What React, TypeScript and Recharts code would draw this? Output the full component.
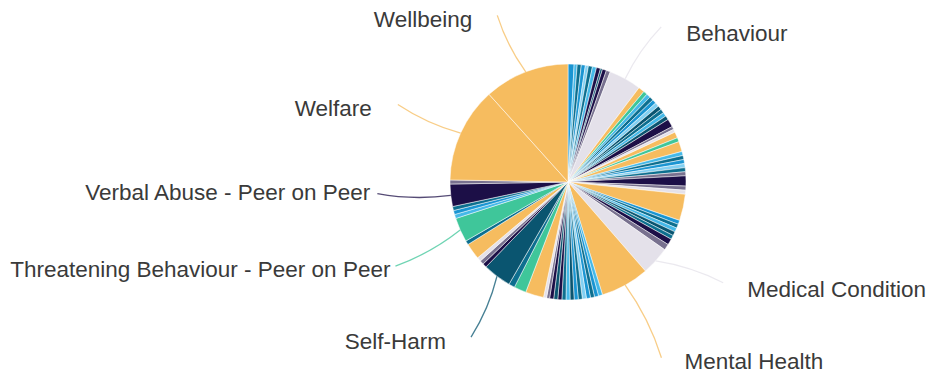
import { PieChart, Pie, Cell } from "recharts";

// incident categories, clockwise from 12 o'clock (alphabetical, as the source report)
const categories = [
  "Absconding", "Abuse - Emotional", "Abuse - Financial", "Abuse - Neglect", "Abuse - Physical",
  "Abuse - Sexual", "Alcohol", "Anti-Social Behaviour", "Anxiety", "Attendance",
  "Attachment", "Behaviour", "Bereavement", "Bullying", "Bullying - Online",
  "Bullying - Physical", "Bullying - Verbal", "Child in Need", "Child Protection", "Concern from Parent",
  "Contextual Safeguarding", "Criminal Exploitation", "Cyber Safety", "Disclosure", "Domestic Abuse",
  "Drugs", "Eating Disorder", "E-Safety", "Exclusion", "FGM",
  "Family Breakdown", "Financial Hardship", "Fire Setting", "Forced Marriage", "Gang Activity",
  "Harmful Sexual Behaviour", "Health", "Homelessness", "Housing", "Illness",
  "Injury", "Isolation", "Looked After Child", "Lateness", "Low Mood",
  "Medical Condition", "Mental Health", "Missing from Home", "Neglect", "Online Safety",
  "Parental Conflict", "Peer Conflict", "Physical Abuse", "Physical Harm", "Police Involvement",
  "Prejudice", "Prevent", "Private Fostering", "Racism", "Radicalisation",
  "Relationships", "Safeguarding", "School Refusal", "Self-Care", "Self-Esteem",
  "Self-Harm", "Sexual Exploitation", "Sexual Harassment", "Sleep Issues", "Smoking",
  "Social Media", "Threatening Behaviour - Peer on Peer", "Theft", "Trauma", "Truancy",
  "Verbal Abuse - Peer on Peer", "Vulnerability", "Welfare", "Wellbeing",
];

const counts = [
  6, 3, 4, 4, 3, 4, 4, 4, 2, 4,
  4, 32, 6, 4, 4, 4, 4, 4, 4, 4,
  4, 4, 8, 3, 3, 6, 4, 10, 4, 4,
  4, 4, 4, 4, 10, 4, 4, 26, 4, 4,
  4, 4, 4, 6, 6, 28, 48, 4, 4, 4,
  4, 4, 4, 4, 4, 4, 4, 4, 4, 4,
  3, 3, 18, 12, 6, 28, 4, 4, 4, 16,
  4, 24, 4, 4, 4, 22, 4, 94, 84,
];

const labelledCategories = [
  "Wellbeing", "Behaviour", "Welfare", "Verbal Abuse - Peer on Peer",
  "Threatening Behaviour - Peer on Peer", "Self-Harm", "Medical Condition", "Mental Health",
];

const data = categories.map((name, i) => ({ name, value: counts[i] }));

const palette: Record<string, string> = {
  o: "#F6BC5F",
  g: "#E4E1EA",
  n: "#1C0F47",
  b: "#1A95D2",
  c: "#45B9E8",
  t: "#0D6F8F",
  d: "#0A5570",
  m: "#3FC69A",
  v: "#78718F",
  l: "#82D0F2",
};

const sliceColours = [
  "b", "c", "t", "b", "l", "t", "c", "n", "d", "n",
  "v", "g", "o", "m", "c", "t", "b", "l", "d", "t",
  "c", "d", "n", "v", "g", "o", "m", "o", "c", "t",
  "b", "l", "t", "v", "n", "v", "g", "o", "b", "t",
  "c", "d", "t", "n", "v", "g", "o", "c", "b", "t",
  "b", "l", "t", "b", "d", "c", "t", "n", "d", "n",
  "v", "g", "o", "m", "t", "d", "n", "v", "g", "o",
  "t", "m", "c", "b", "t", "n", "v", "o", "o",
].map((k) => palette[k]);

// leader line: end radius, angle shift (deg, clockwise), gap before text, text y shift
const labelLayout: Record<string, { r: number; da: number; gap: number; dy: number }> = {
  Wellbeing: { r: 181, da: -2, gap: 25, dy: 4 },
  Behaviour: { r: 181, da: 2, gap: 25, dy: 7 },
  Welfare: { r: 187, da: 0, gap: 26, dy: 4 },
  "Verbal Abuse - Peer on Peer": { r: 191, da: 3, gap: 7, dy: -1 },
  "Threatening Behaviour - Peer on Peer": { r: 192, da: -2, gap: 5, dy: 3 },
  "Self-Harm": { r: 183, da: -5, gap: 25, dy: 4 },
  "Medical Condition": { r: 185, da: -9, gap: 24, dy: 7 },
  "Mental Health": { r: 199, da: 1, gap: 23, dy: 4 },
};

const RAD = Math.PI / 180;

function renderLabel(props: any) {
  const { cx, cy, midAngle, outerRadius, index } = props;
  const name = categories[index];
  const layout = labelLayout[name];
  if (!layout || !labelledCategories.includes(name)) return <g />;
  const sx = cx + outerRadius * Math.cos(-midAngle * RAD);
  const sy = cy + outerRadius * Math.sin(-midAngle * RAD);
  const endAngle = midAngle - layout.da;
  const ex = cx + layout.r * Math.cos(-endAngle * RAD);
  const ey = cy + layout.r * Math.sin(-endAngle * RAD);
  // slight bend, like the source's curved leaders
  const mx = (sx + ex) / 2 + (ey - sy) * 0.08;
  const my = (sy + ey) / 2 - (ex - sx) * 0.08;
  const right = ex > cx;
  const tx = ex + (right ? layout.gap : -layout.gap);
  return (
    <g>
      <path
        d={`M${sx},${sy}Q${mx},${my} ${ex},${ey}`}
        stroke={sliceColours[index]}
        strokeOpacity={0.75}
        strokeWidth={1.3}
        fill="none"
      />
      <text
        x={tx}
        y={ey + layout.dy}
        textAnchor={right ? "start" : "end"}
        dominantBaseline="central"
        fill="#3a3a3a"
        fontSize={22.5}
        fontFamily="'Liberation Sans', Arial, sans-serif"
      >
        {name}
      </text>
    </g>
  );
}

export default function App() {
  return (
    <div style={{ position: "absolute", left: 0, top: 0, width: 930, height: 378, background: "#fff" }}>
      <PieChart width={930} height={378} margin={{ top: 0, right: 0, bottom: 0, left: 0 }}>
        <Pie
          data={data}
          dataKey="value"
          nameKey="name"
          cx={568}
          cy={182}
          outerRadius={118}
          startAngle={90}
          endAngle={-270}
          stroke="#ffffff"
          strokeWidth={0.5}
          label={renderLabel}
          labelLine={false}
          isAnimationActive={false}
        >
          {data.map((d, i) => (
            <Cell key={d.name} fill={sliceColours[i]} />
          ))}
        </Pie>
      </PieChart>
    </div>
  );
}
